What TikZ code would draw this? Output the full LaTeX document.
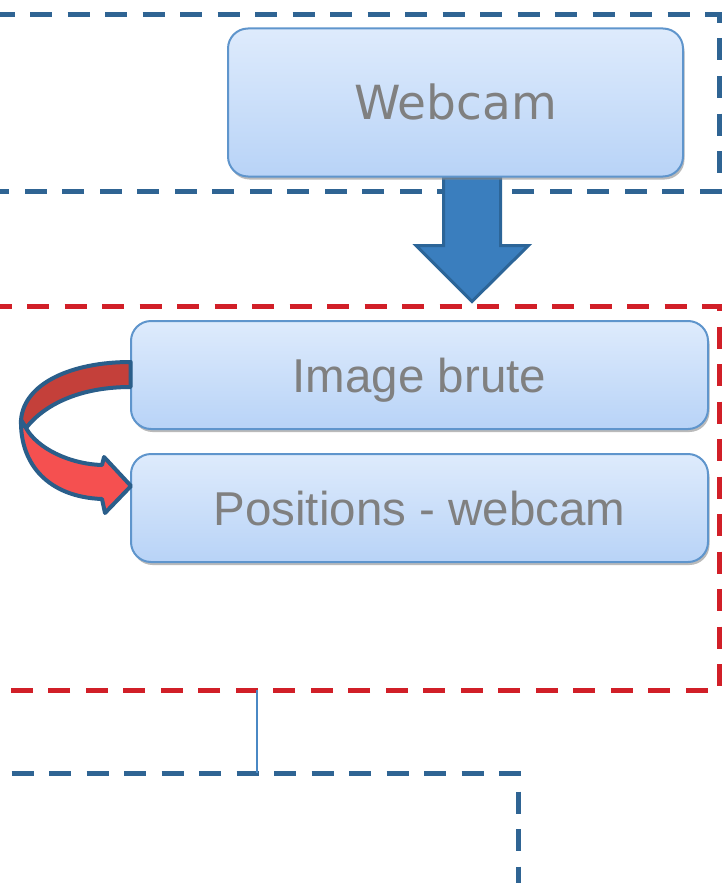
\documentclass[tikz,border=0pt]{standalone}
\usepackage{fontspec}
\setmainfont{Liberation Sans}
\newfontfamily\camfont{DejaVu Sans}
\usepackage{tikz}
\usetikzlibrary{positioning,calc,shadows,backgrounds}
\definecolor{FrameBlue}{HTML}{2F6493}
\definecolor{FrameRed}{HTML}{D11F28}
\definecolor{BoxTop}{HTML}{DEEBFC}
\definecolor{BoxBot}{HTML}{B8D3F7}
\definecolor{BoxLine}{HTML}{5F95CC}
\definecolor{TextGray}{HTML}{808080}
\definecolor{ArrowBlue}{HTML}{3A7EBE}
\definecolor{ArrowLine}{HTML}{2C6598}
\definecolor{LoopDark}{HTML}{C4403A}
\definecolor{LoopLight}{HTML}{F55050}
\definecolor{LoopLine}{HTML}{2A5E8A}
\definecolor{LinkBlue}{HTML}{4A88C4}
\tikzset{
  stage/.style={rounded corners=20pt,draw=BoxLine,line width=2pt,top color=BoxTop,bottom color=BoxBot,text=TextGray,font=\fontsize{47.5}{52}\selectfont,text height=34pt,text depth=0pt,drop shadow={shadow xshift=1.5pt,shadow yshift=-3pt,fill=black!45,opacity=0.6}},
  bluezone/.style={draw=FrameBlue,line width=5pt,dash pattern=on 22pt off 15.5pt},
  redzone/.style={bluezone,draw=FrameRed},
  bigdown/.style={fill=ArrowBlue,draw=ArrowLine,line width=3pt,line join=miter},
  loopband/.style={draw=LoopLine,line width=4pt,line join=round},
  link/.style={draw=LinkBlue,line width=1.5pt}
}

\begin{document}
\begin{tikzpicture}[x=1pt,y=-1pt]
  \useasboundingbox (0,0) rectangle (722,883);
  \clip (0,0) rectangle (722,883);
  % stages
  \node[stage,font=\camfont\fontsize{47}{52}\selectfont,minimum width=455pt,minimum height=148pt] (webcam) at (455.5,102.5) {Webcam};
  \node[stage,minimum width=577pt,minimum height=108pt] (brute) at (419.5,375) {Image brute};
  \node[stage,minimum width=577pt,minimum height=108pt,below=23pt of brute] (pos) {Positions - webcam};
  \coordinate (drop) at ($(webcam.south)+(16.5,0)$);
  \coordinate (redfoot) at (257,690);
  \coordinate (bluehead) at (257,773);
  \begin{scope}[on background layer]
    \draw[bluezone] (-45,15) -- (719,15) -- (719,191) -- (-20,191);
    \draw[redzone] (-48,306) -- (719,306) -- (719,690) -- (-20,690);
    \draw[bluezone] (-26,773) -- (518,773) -- (518,900);
    \draw[bigdown] ($(drop)+(-28.5,0)$) -- ++(57,0) -- ++(0,68) -- ++(28,0)
      -- ($(drop)+(0,124)$) -- ($(drop)+(-56,68)$) -- ++(27.5,0) -- cycle;
  \end{scope}
  \draw[link] (redfoot) -- (bluehead);
  % loop from raw image to positions
  \begin{scope}[shift={(brute.west)}]
    \draw[loopband,fill=LoopDark] (0.7,-13) .. controls (-58,-13) and (-106,8) .. (-109,45)
      -- (-104,53) .. controls (-86,30) and (-51,12) .. (0.7,12) -- cycle;
    \draw[loopband,fill=LoopLight] (-109,45) .. controls (-110,90) and (-81,122) .. (-28,124)
      -- (-25,138) -- (1,111) -- (-26,82) -- (-28,90)
      .. controls (-61,89) and (-93,73) .. (-104,53) -- cycle;
  \end{scope}
\end{tikzpicture}
\end{document}
